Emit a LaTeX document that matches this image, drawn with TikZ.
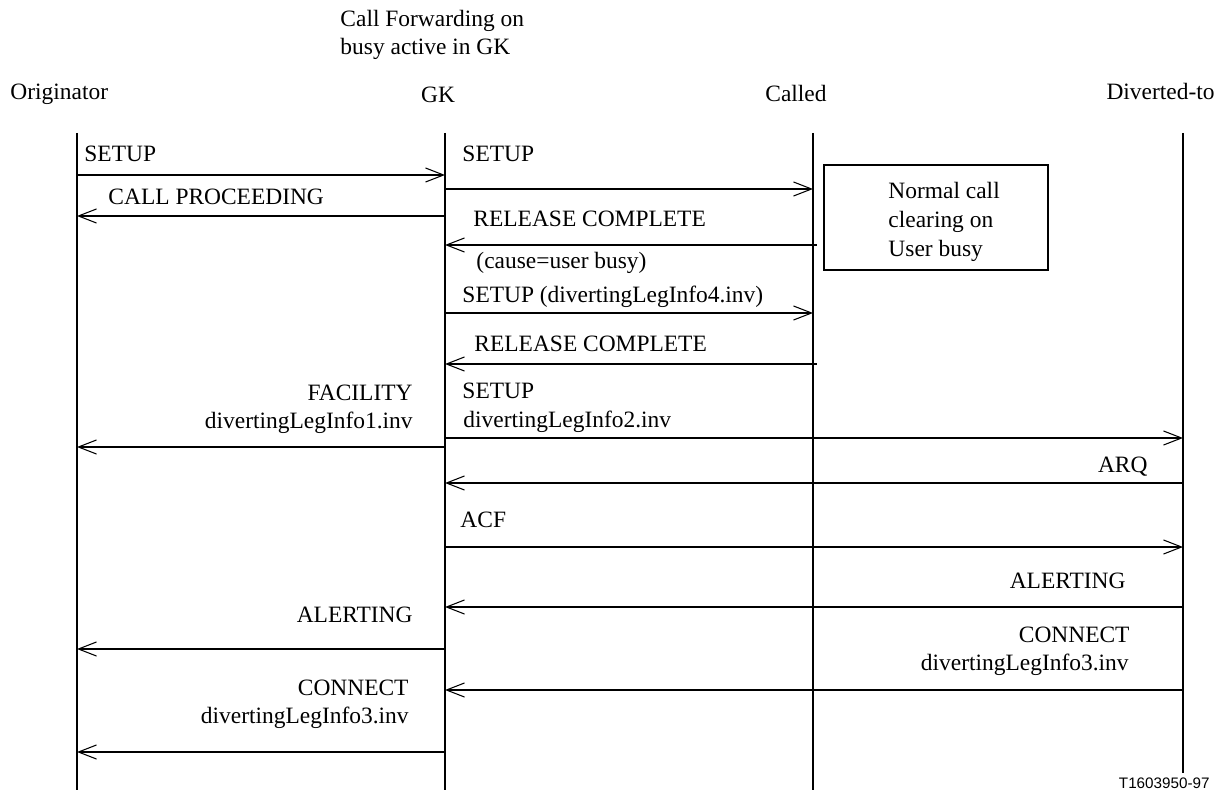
\documentclass[tikz,border=0pt]{standalone}
\usepackage{fontspec}
\setmainfont{Liberation Serif}
\newfontfamily\tagfont{Liberation Sans}
\usetikzlibrary{arrows.meta}

\begin{document}
\begin{tikzpicture}[
    x=0.015cm, y=-0.015cm,
    lbl/.style={inner sep=0pt, anchor=base west},
    rlbl/.style={inner sep=0pt, anchor=base east},
    life/.style={line width=0.85pt},
    msg/.style={line width=0.8pt, -{Straight Barb[length=7.7pt, width=6pt, line width=0.45pt]}},
    note/.style={rectangle, draw=black, line width=0.5pt, minimum width=3.36cm, minimum height=1.575cm, inner sep=0pt}
]
\useasboundingbox (0,0) rectangle (1225,798);

% Title and entities
\node[lbl] (title1) at (340,27) {Call Forwarding on};
\node[lbl] (title2) at (340,55) {busy active in GK};
\node[lbl] (orig) at (10,100) {Originator};
\node[inner sep=0pt, anchor=base] (gk) at (438,103) {GK};
\node[inner sep=0pt, anchor=base] (called) at (796,102) {Called};
\node[rlbl] (div) at (1215,100) {Diverted-to};

% Lifelines
\coordinate (o-top) at (77,133);   \coordinate (o-bot) at (77,790);
\coordinate (g-top) at (445,133);  \coordinate (g-bot) at (445,790);
\coordinate (c-top) at (813,133);  \coordinate (c-bot) at (813,790);
\coordinate (d-top) at (1183,133); \coordinate (d-bot) at (1183,773);
\draw[life] (o-top) -- (o-bot);
\draw[life] (g-top) -- (g-bot);
\draw[life] (c-top) -- (c-bot);
\draw[life] (d-top) -- (d-bot);

% Message rows
\foreach \m/\y in {s1/175, s2/189, cp/216, rc1/245, s4/313, rc2/364, s2b/438, fac/447,
                   arq/483, acf/547, al1/607, al2/649, con1/690, con2/752}{
    \coordinate (o-\m) at (77,\y);
    \coordinate (g-\m) at (445,\y);
    \coordinate (c-\m) at (813,\y);
    \coordinate (d-\m) at (1183,\y);
}

% Normal clearing box
\node[note] (clr) at (936,217.5) {};
\node[inner sep=0pt, anchor=west, align=left, font=\fontsize{10}{12.4}\selectfont] (clr-txt) at (888,222) {Normal call\\clearing on\\User busy};

% Messages
\draw[msg] (o-s1) -- (g-s1);
\draw[msg] (g-s2) -- (c-s2);
\draw[msg] (g-cp) -- (o-cp);
\draw[msg] ([xshift=1.7pt]c-rc1) -- (g-rc1);
\draw[msg] (g-s4) -- (c-s4);
\draw[msg] ([xshift=1.7pt]c-rc2) -- (g-rc2);
\draw[msg] (g-fac) -- (o-fac);
\draw[msg] (g-s2b) -- (d-s2b);
\draw[msg] (d-arq) -- (g-arq);
\draw[msg] (g-acf) -- (d-acf);
\draw[msg] (d-al1) -- (g-al1);
\draw[msg] (g-al2) -- (o-al2);
\draw[msg] (d-con1) -- (g-con1);
\draw[msg] (g-con2) -- (o-con2);

% Message labels
\node[lbl] (l-s1) at (84,162) {SETUP};
\node[lbl] (l-s2) at (462,162) {SETUP};
\node[lbl] (l-cp) at (108,205) {CALL PROCEEDING};
\node[lbl] (l-rc1) at (473,227) {RELEASE COMPLETE};
\node[lbl] (l-cause) at (476,269) {(cause=user busy)};
\node[lbl] (l-s4) at (462,303) {SETUP (divertingLegInfo4.inv)};
\node[lbl] (l-rc2) at (474,351) {RELEASE COMPLETE};
\node[rlbl] (l-fac) at (413,400) {FACILITY};
\node[rlbl] (l-fac2) at (413,428) {divertingLegInfo1.inv};
\node[lbl] (l-s2b) at (462,398) {SETUP};
\node[lbl] (l-s2b2) at (463,427) {divertingLegInfo2.inv};
\node[rlbl] (l-arq) at (1148,472) {ARQ};
\node[lbl] (l-acf) at (460,527) {ACF};
\node[rlbl] (l-al1) at (1126,588) {ALERTING};
\node[rlbl] (l-al2) at (413,622) {ALERTING};
\node[rlbl] (l-con1) at (1130,642) {CONNECT};
\node[rlbl] (l-con1b) at (1129,670) {divertingLegInfo3.inv};
\node[rlbl] (l-con2) at (409,695) {CONNECT};
\node[rlbl] (l-con2b) at (409,723) {divertingLegInfo3.inv};

% Figure tag
\node[rlbl, font=\tagfont\fontsize{6.5}{8}\selectfont] (tag) at (1210,788) {T1603950-97};

\end{tikzpicture}
\end{document}
